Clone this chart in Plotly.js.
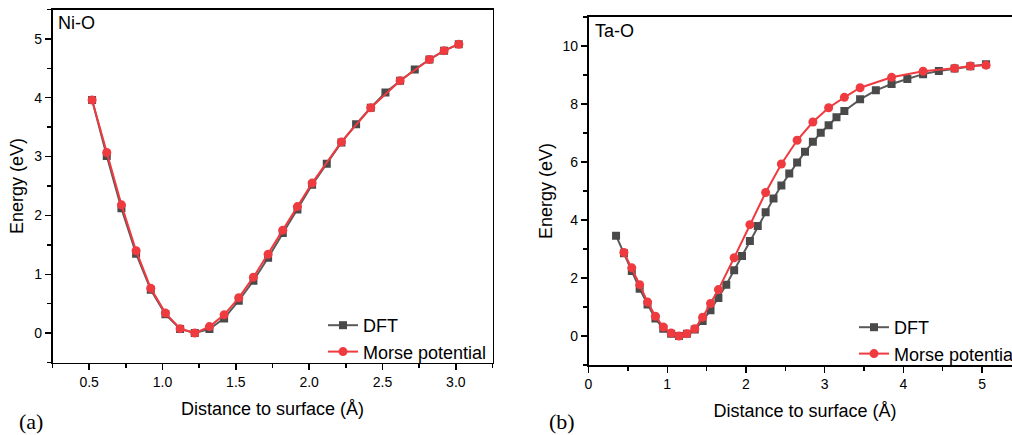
<!DOCTYPE html>
<html>
<head>
<meta charset="utf-8">
<script src="https://cdn.plot.ly/plotly-3.0.1.min.js"></script>
<style>
html,body{margin:0;padding:0;overflow:hidden;background:#fff;width:1012px;height:435px;}
#chart{width:1030px;height:435px;}
</style>
</head>
<body>
<div id="chart"></div>
<script>
// ---- Panel (a): Ni-O ----
const niDftX = [0.52,0.62,0.72,0.82,0.92,1.02,1.12,1.22,1.32,1.42,1.52,1.62,1.72,1.82,1.92,2.02,2.12,2.22,2.32,2.42,2.52,2.62,2.72,2.82,2.92,3.02];
const niDftY = [3.96,3.01,2.12,1.35,0.735,0.32,0.07,0.0,0.07,0.25,0.55,0.89,1.28,1.70,2.10,2.52,2.88,3.24,3.55,3.83,4.09,4.29,4.48,4.65,4.80,4.91];
const niMorseX = [0.52,0.62,0.72,0.82,0.92,1.02,1.12,1.22,1.32,1.42,1.52,1.62,1.72,1.82,1.92,2.02,2.22,2.42,2.62,2.82,2.92,3.02];
const niMorseY = [3.96,3.07,2.18,1.40,0.76,0.34,0.075,0.0,0.11,0.31,0.60,0.95,1.34,1.75,2.15,2.55,3.25,3.83,4.29,4.65,4.80,4.91];

// ---- Panel (b): Ta-O ----
const taDftX = [0.35,0.45,0.55,0.65,0.75,0.85,0.95,1.05,1.15,1.25,1.35,1.45,1.55,1.65,1.75,1.85,1.95,2.05,2.15,2.25,2.35,2.45,2.55,2.65,2.75,2.85,2.95,3.05,3.15,3.25,3.45,3.65,3.85,4.05,4.25,4.45,4.65,4.85,5.05];
const taDftY = [3.46,2.85,2.24,1.63,1.09,0.60,0.25,0.08,0.0,0.08,0.22,0.52,0.89,1.31,1.77,2.27,2.76,3.28,3.79,4.27,4.74,5.19,5.60,5.98,6.35,6.70,7.01,7.27,7.54,7.76,8.16,8.47,8.69,8.86,9.03,9.14,9.22,9.30,9.37];
const taMorseX = [0.45,0.55,0.65,0.75,0.85,0.95,1.05,1.15,1.25,1.35,1.45,1.55,1.65,1.85,2.05,2.25,2.45,2.65,2.85,3.05,3.25,3.45,3.85,4.25,4.65,4.85,5.05];
const taMorseY = [2.88,2.35,1.77,1.17,0.68,0.31,0.10,0.0,0.08,0.25,0.65,1.12,1.60,2.70,3.84,4.95,5.93,6.75,7.38,7.87,8.23,8.56,8.92,9.13,9.23,9.31,9.34];

const legendNames = ["DFT", "Morse potential"];
const panelLabels = ["(a)", "(b)"];
const systemLabels = ["Ni-O", "Ta-O"];
const xTitle = "Distance to surface (Å)";
const yTitle = "Energy (eV)";

const GRAY = "#4a4a4a", GRAYLINE = "#5a5a5a", RED = "#ef3b40";
const W = 1030, H = 435;
const px = v => v / W;
const py = v => (H - v) / H;

function dft(x, y, xa, ya, lg) {
  return {x, y, xaxis: xa, yaxis: ya, legend: lg, name: legendNames[0], type: "scatter", mode: "lines+markers",
    line: {color: GRAYLINE, width: 2}, marker: {symbol: "square", size: 8, color: GRAY}};
}
function morse(x, y, xa, ya, lg) {
  return {x, y, xaxis: xa, yaxis: ya, legend: lg, name: legendNames[1], type: "scatter", mode: "lines+markers",
    line: {color: RED, width: 2}, marker: {symbol: "circle", size: 9, color: RED}};
}

const data = [
  dft(niDftX, niDftY, "x", "y", "legend"),
  morse(niMorseX, niMorseY, "x", "y", "legend"),
  dft(taDftX, taDftY, "x2", "y2", "legend2"),
  morse(taMorseX, taMorseY, "x2", "y2", "legend2")
];

const FAM = "Liberation Sans, Arial, sans-serif";
const font = {family: FAM, size: 14, color: "#000"};
const titleFont = {family: FAM, size: 18, color: "#000"};
const minorBase = {ticklen: 4, tickwidth: 1.4, tickcolor: "#000", ticks: "outside"};
const axBase = {
  showgrid: false, zeroline: false, showline: true, linecolor: "#000", linewidth: 1.6, mirror: true,
  ticks: "outside", ticklen: 6, tickwidth: 1.4, tickcolor: "#000",
  tickfont: {family: FAM, size: 14, color: "#000"}
};

const layout = {
  width: W, height: H,
  margin: {l: 0, r: 0, t: 0, b: 0},
  paper_bgcolor: "#fff", plot_bgcolor: "#fff",
  font: font,
  xaxis: Object.assign({}, axBase, {
    domain: [px(52.5), px(492.5)], range: [0.25, 3.25], dtick: 0.5, tick0: 0, tickformat: ".1f",
    minor: Object.assign({dtick: 0.25}, minorBase),
    anchor: "y",
    title: {text: xTitle, font: titleFont, standoff: 13}
  }),
  yaxis: Object.assign({}, axBase, {
    domain: [py(362.5), py(9.5)], range: [-0.5, 5.5], dtick: 1, tick0: 0,
    minor: Object.assign({dtick: 0.5}, minorBase),
    anchor: "x",
    title: {text: yTitle, font: titleFont, standoff: 6}
  }),
  xaxis2: Object.assign({}, axBase, {
    domain: [px(588.5), px(1021.5)], range: [0, 5.5], dtick: 1, tick0: 0,
    minor: Object.assign({dtick: 0.5}, minorBase),
    anchor: "y2",
    title: {text: xTitle, font: titleFont, standoff: 13}
  }),
  yaxis2: Object.assign({}, axBase, {
    domain: [py(365), py(17)], range: [-1, 11], dtick: 2, tick0: 0,
    minor: Object.assign({dtick: 1}, minorBase),
    anchor: "x2",
    title: {text: yTitle, font: titleFont, standoff: 5}
  }),
  legend: {x: px(323), y: py(307), xanchor: "left", yanchor: "top", bgcolor: "rgba(0,0,0,0)",
    font: {family: FAM, size: 18, color: "#000"}, tracegroupgap: 0},
  legend2: {x: px(854), y: py(309), xanchor: "left", yanchor: "top", bgcolor: "rgba(0,0,0,0)",
    font: {family: FAM, size: 18, color: "#000"}, tracegroupgap: 0},
  showlegend: true,
  annotations: [
    {text: systemLabels[0], xref: "paper", yref: "paper", x: px(56), y: py(23), xanchor: "left", yanchor: "middle",
      showarrow: false, font: {family: FAM, size: 18, color: "#000"}},
    {text: systemLabels[1], xref: "paper", yref: "paper", x: px(593), y: py(31), xanchor: "left", yanchor: "middle",
      showarrow: false, font: {family: FAM, size: 18, color: "#000"}},
    {text: panelLabels[0], xref: "paper", yref: "paper", x: px(17), y: py(421), xanchor: "left", yanchor: "middle",
      showarrow: false, font: {family: "Liberation Serif, Times New Roman, serif", size: 22, color: "#000"}},
    {text: panelLabels[1], xref: "paper", yref: "paper", x: px(547), y: py(421), xanchor: "left", yanchor: "middle",
      showarrow: false, font: {family: "Liberation Serif, Times New Roman, serif", size: 22, color: "#000"}}
  ]
};

Plotly.newPlot("chart", data, layout, {displayModeBar: false, staticPlot: true});
</script>
</body>
</html>
